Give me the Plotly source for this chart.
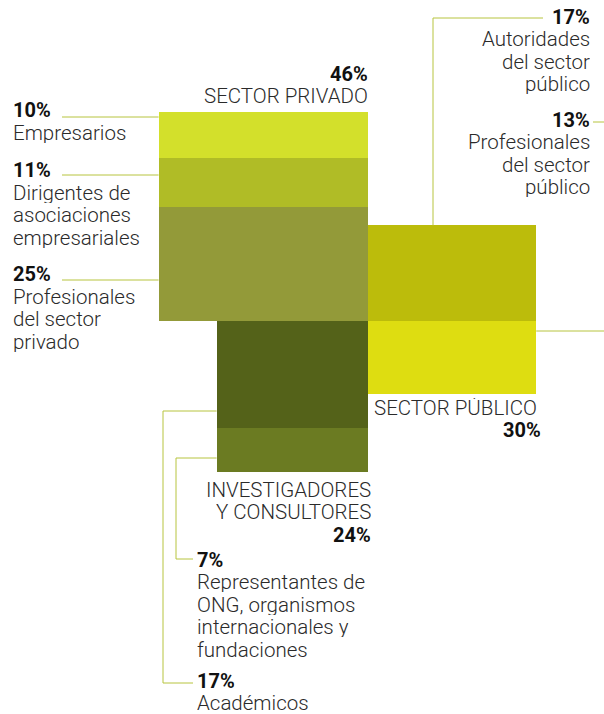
import numpy as np
import plotly.graph_objects as go

# --- data ---------------------------------------------------------------
sector_names = [["SECTOR PRIVADO"], ["SECTOR PÚBLICO"], ["INVESTIGADORES", "Y CONSULTORES"]]
sector_pct = [46, 30, 24]

group_names = [
    [["Empresarios"],
     ["Dirigentes de", "asociaciones", "empresariales"],
     ["Profesionales", "del sector", "privado"]],
    [["Autoridades", "del sector", "público"],
     ["Profesionales", "del sector", "público"]],
    [["Académicos"],
     ["Representantes de", "ONG, organismos", "internacionales y", "fundaciones"]],
]
group_pct = [[10, 11, 25], [17, 13], [17, 7]]
group_colors = [["#d3e02b", "#b0bc26", "#939a39"],
                ["#bcbc0b", "#dedd11"],
                ["#546219", "#6b7b22"]]

# --- layout constants ---------------------------------------------------
W, H = 604, 714
K = 30.8                 # px per sqrt(percent): square area ~ share
CX, CY = 367.5, 321      # pivot where the three squares meet
PITCH = 22.5
FONT = "Roboto"
TXT = "#2a2a2a"
PCT = "#111111"
LINE = "#b7c43f"

fig = go.Figure()

# squares (side from the sector share), split by sub-group share
pivots = [("right", 1.0), ("left", 17 / 30), ("right", 0.0)]
geo = []
for s, total in enumerate(sector_pct):
    side = K * np.sqrt(total)
    align, frac = pivots[s]
    x0 = CX - side if align == "right" else CX
    top = CY - side * frac
    segs = []
    y = top
    for p, col in zip(group_pct[s], group_colors[s]):
        h = side * p / total
        fig.add_trace(go.Bar(x=[x0 + side / 2], y=[h], base=[y], width=[side],
                             marker=dict(color=col, line_width=0),
                             hoverinfo="skip", showlegend=False))
        segs.append((y, y + h))
        y += h
    geo.append(dict(x0=x0, x1=x0 + side, top=top, bottom=y, segs=segs))


def text_block(lines, x, y0, anchor, pct=None, pct_first=True):
    rows = []
    if pct is not None and pct_first:
        rows.append((f"{pct}%", True))
    rows += [(t, False) for t in lines]
    if pct is not None and not pct_first:
        rows.append((f"{pct}%", True))
    for i, (t, bold) in enumerate(rows):
        fig.add_annotation(x=x, y=y0 + i * PITCH, xref="x", yref="y", text=t,
                           showarrow=False, xanchor=anchor, yanchor="middle",
                           borderpad=0, height=20,
                           font=dict(family=FONT, size=20 if bold else 20.5,
                                     color=PCT if bold else TXT,
                                     weight=700 if bold else 300))


def leader(xs, ys):
    fig.add_trace(go.Scatter(x=xs, y=ys, mode="lines",
                             line=dict(color=LINE, width=1),
                             hoverinfo="skip", showlegend=False))


pv, pu, inv = geo

# sector titles
text_block(sector_names[0], pv["x1"] + 1, 73.5, "right", sector_pct[0], True)
text_block(sector_names[1], pu["x0"] + 5, 408, "left")
text_block([], pu["x1"] + 6, 430, "right", sector_pct[1])
text_block(sector_names[2], inv["x1"] + 4, 489.5, "right", sector_pct[2], False)

# private sector labels (left)
for (y_txt, y_ln), lines, p in zip([(110, 117), (170, 175), (274, 280)],
                                   group_names[0], group_pct[0]):
    text_block(lines, 12, y_txt, "left", p)
    leader([62, pv["x0"]], [y_ln, y_ln])

# public sector labels (right)
text_block(group_names[1][0], 591, 16.5, "right", group_pct[1][0])
leader([433, 433, 543], [pu["top"], 18, 18])
text_block(group_names[1][1], 591, 119.5, "right", group_pct[1][1])
leader([pu["x1"], 606, 606, 593], [331, 331, 122, 122])

# researchers labels (bottom)
text_block(group_names[2][1], 196, 559.5, "left", group_pct[2][1])
leader([inv["x0"], 176, 176, 193], [458, 458, 559, 559])
text_block(group_names[2][0], 196, 680.5, "left", group_pct[2][0])
leader([inv["x0"], 163, 163, 193], [411, 411, 683, 683])

fig.update_layout(
    width=W, height=H, margin=dict(l=0, r=0, t=0, b=0),
    paper_bgcolor="white", plot_bgcolor="white",
    barmode="overlay", bargap=0,
    xaxis=dict(range=[0, W], visible=False, fixedrange=True),
    yaxis=dict(range=[H, 0], visible=False, fixedrange=True),
)

fig.write_html("out.html", config={"displayModeBar": False},
               post_script="document.body.style.margin='0';"
                           "document.body.style.overflow='hidden';")
